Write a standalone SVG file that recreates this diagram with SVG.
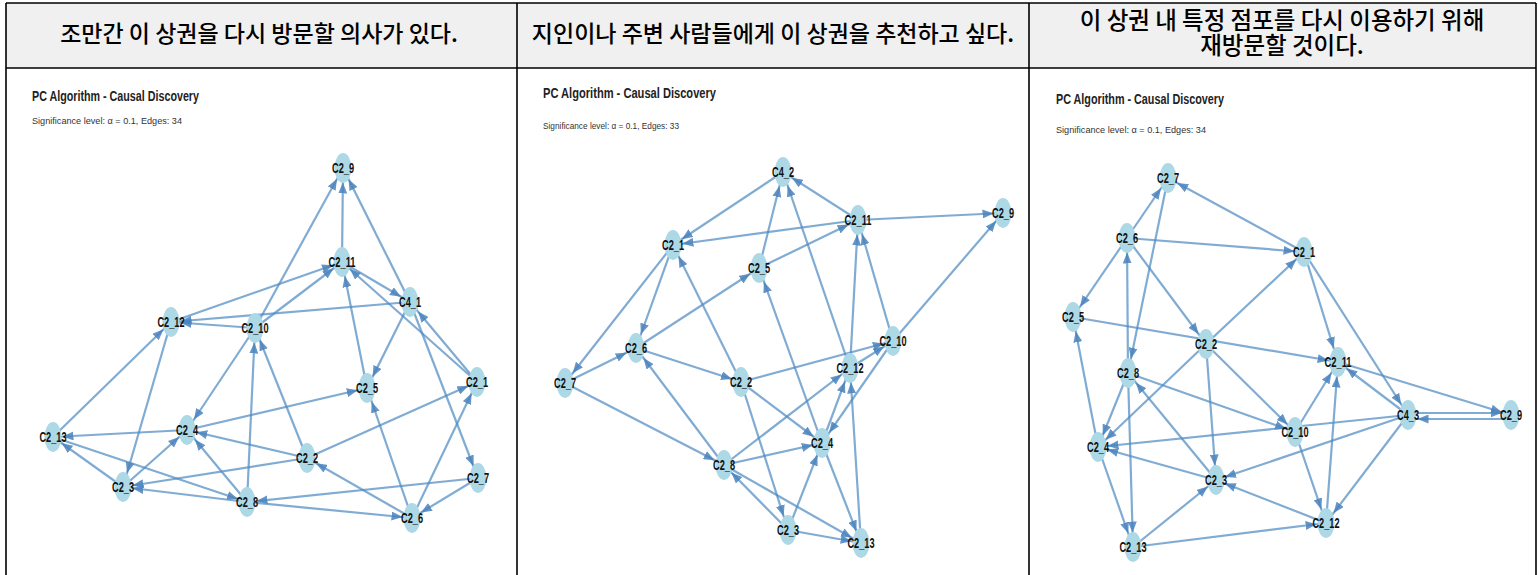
<svg xmlns="http://www.w3.org/2000/svg" width="1538" height="575" viewBox="0 0 1538 575">
<style>
.hdr{fill:#f0f0f0}
.bd{stroke:#000;stroke-width:1.6;fill:none}
.ht{font-family:"Noto Sans CJK KR","Noto Sans",sans-serif;font-size:23px;font-weight:500;fill:#000;text-anchor:middle}
.tt{font-family:"Liberation Sans",Arial,sans-serif;font-size:14px;font-weight:bold;fill:#222}
.st{font-family:"Liberation Sans",Arial,sans-serif;font-size:9px;fill:#333}
.e line{stroke:#4f8ac2;stroke-opacity:.72;stroke-width:2.2;fill:none}
.e .a{marker-end:url(#ma)}
.e .b{marker-end:url(#mb)}
.e .c{marker-end:url(#mc)}
.e .d{marker-end:url(#md)}
.n ellipse{fill:#add8e6}
.n text{font-family:"Liberation Sans",Arial,sans-serif;font-size:14px;font-weight:bold;fill:#111;text-anchor:middle}
.ah{fill:#4a82bd;fill-opacity:.85}
</style>
<defs>
<marker id="ma" markerUnits="userSpaceOnUse" viewBox="0 0 11 9" markerWidth="11" markerHeight="9" refX="20.5" refY="4.5" orient="auto"><path class="ah" d="M0,0 L11,4.5 L0,9 z"/></marker>
<marker id="mb" markerUnits="userSpaceOnUse" viewBox="0 0 11 9" markerWidth="11" markerHeight="9" refX="21.5" refY="4.5" orient="auto"><path class="ah" d="M0,0 L11,4.5 L0,9 z"/></marker>
<marker id="mc" markerUnits="userSpaceOnUse" viewBox="0 0 11 9" markerWidth="11" markerHeight="9" refX="23.5" refY="4.5" orient="auto"><path class="ah" d="M0,0 L11,4.5 L0,9 z"/></marker>
<marker id="md" markerUnits="userSpaceOnUse" viewBox="0 0 11 9" markerWidth="11" markerHeight="9" refX="25.5" refY="4.5" orient="auto"><path class="ah" d="M0,0 L11,4.5 L0,9 z"/></marker>
</defs>
<rect width="1538" height="575" fill="#fff"/>
<g id="table">
<rect class="hdr" x="6" y="3" width="1530" height="65"/>
<line class="bd" x1="6" y1="3" x2="1536" y2="3"/>
<line class="bd" x1="6" y1="68" x2="1536" y2="68"/>
<line class="bd" x1="6" y1="3" x2="6" y2="575"/>
<line class="bd" x1="517" y1="3" x2="517" y2="575"/>
<line class="bd" x1="1029" y1="3" x2="1029" y2="575"/>
<line class="bd" x1="1536" y1="3" x2="1536" y2="575"/>
<text class="ht" x="259" y="42">조만간 이 상권을 다시 방문할 의사가 있다.</text>
<text class="ht" x="773" y="42">지인이나 주변 사람들에게 이 상권을 추천하고 싶다.</text>
<text class="ht" x="1282" y="28.5" style="font-size:23.5px"><tspan x="1282" y="28.5">이 상권 내 특정 점포를 다시 이용하기 위해</tspan><tspan x="1282" y="53.5">재방문할 것이다.</tspan></text>
</g>
<g id="titles">
<text class="tt" x="32" y="101" textLength="167" lengthAdjust="spacingAndGlyphs">PC Algorithm - Causal Discovery</text>
<text class="st" x="32" y="124" textLength="150" lengthAdjust="spacingAndGlyphs">Significance level: α = 0.1, Edges: 34</text>
<text class="tt" x="543" y="98" textLength="173" lengthAdjust="spacingAndGlyphs">PC Algorithm - Causal Discovery</text>
<text class="st" x="543" y="129" textLength="136" lengthAdjust="spacingAndGlyphs">Significance level: α = 0.1, Edges: 33</text>
<text class="tt" x="1056" y="104" textLength="168" lengthAdjust="spacingAndGlyphs">PC Algorithm - Causal Discovery</text>
<text class="st" x="1056" y="133" textLength="150" lengthAdjust="spacingAndGlyphs">Significance level: α = 0.1, Edges: 34</text>
</g>
<g id="connectors" class="e">
<!-- panel 1 -->
<line class="c" x1="255" y1="328" x2="343" y2="168"/>
<line class="d" x1="342" y1="262" x2="343" y2="168"/>
<line class="c" x1="410" y1="302" x2="343" y2="168"/>
<line class="a" x1="171" y1="322" x2="342" y2="262"/>
<line class="b" x1="255" y1="328" x2="342" y2="262"/>
<line class="a" x1="410" y1="302" x2="171" y2="322"/>
<line class="a" x1="255" y1="328" x2="171" y2="322"/>
<line class="b" x1="342" y1="262" x2="410" y2="302"/>
<line class="b" x1="477" y1="382" x2="342" y2="262"/>
<line class="c" x1="477" y1="382" x2="410" y2="302"/>
<line class="d" x1="367" y1="388" x2="342" y2="262"/>
<line class="c" x1="410" y1="302" x2="367" y2="388"/>
<line class="c" x1="410" y1="302" x2="478" y2="478"/>
<line class="a" x1="187" y1="430" x2="367" y2="388"/>
<line class="a" x1="307" y1="458" x2="477" y2="382"/>
<line class="c" x1="412" y1="518" x2="477" y2="382"/>
<line class="d" x1="412" y1="518" x2="367" y2="388"/>
<line class="b" x1="412" y1="518" x2="307" y2="458"/>
<line class="b" x1="478" y1="478" x2="412" y2="518"/>
<line class="a" x1="478" y1="478" x2="247" y2="502"/>
<line class="a" x1="247" y1="502" x2="412" y2="518"/>
<line class="a" x1="307" y1="458" x2="187" y2="430"/>
<line class="a" x1="307" y1="458" x2="123" y2="487"/>
<line class="b" x1="53" y1="437" x2="171" y2="322"/>
<line class="d" x1="171" y1="322" x2="123" y2="487"/>
<line class="a" x1="187" y1="430" x2="53" y2="437"/>
<line class="b" x1="123" y1="487" x2="53" y2="437"/>
<line class="a" x1="53" y1="437" x2="247" y2="502"/>
<line class="a" x1="247" y1="502" x2="123" y2="487"/>
<line class="b" x1="123" y1="487" x2="187" y2="430"/>
<line class="c" x1="247" y1="502" x2="187" y2="430"/>
<line class="c" x1="255" y1="328" x2="187" y2="430"/>
<line class="d" x1="247" y1="502" x2="255" y2="328"/>
<line class="c" x1="307" y1="458" x2="255" y2="328"/>
<!-- panel 2 -->
<line class="b" x1="858" y1="220" x2="783" y2="172"/>
<line class="d" x1="850" y1="368" x2="783" y2="172"/>
<line class="d" x1="759" y1="268" x2="783" y2="172"/>
<line class="b" x1="783" y1="172" x2="673" y2="245"/>
<line class="a" x1="858" y1="220" x2="673" y2="245"/>
<line class="b" x1="759" y1="268" x2="858" y2="220"/>
<line class="a" x1="858" y1="220" x2="1003" y2="213"/>
<line class="b" x1="893" y1="341" x2="1003" y2="213"/>
<line class="d" x1="850" y1="368" x2="858" y2="220"/>
<line class="d" x1="893" y1="341" x2="858" y2="220"/>
<line class="d" x1="822" y1="443" x2="759" y2="268"/>
<line class="c" x1="741" y1="382" x2="673" y2="245"/>
<line class="d" x1="673" y1="245" x2="636" y2="348"/>
<line class="c" x1="673" y1="245" x2="565" y2="383"/>
<line class="b" x1="565" y1="383" x2="636" y2="348"/>
<line class="a" x1="636" y1="348" x2="741" y2="382"/>
<line class="c" x1="724" y1="465" x2="636" y2="348"/>
<line class="b" x1="565" y1="383" x2="724" y2="465"/>
<line class="a" x1="741" y1="382" x2="893" y2="341"/>
<line class="b" x1="741" y1="382" x2="822" y2="443"/>
<line class="d" x1="741" y1="382" x2="788" y2="530"/>
<line class="b" x1="724" y1="465" x2="850" y2="368"/>
<line class="a" x1="724" y1="465" x2="822" y2="443"/>
<line class="d" x1="822" y1="443" x2="850" y2="368"/>
<line class="c" x1="893" y1="341" x2="822" y2="443"/>
<line class="d" x1="861" y1="543" x2="850" y2="368"/>
<line class="c" x1="822" y1="443" x2="861" y2="543"/>
<line class="c" x1="788" y1="530" x2="822" y2="443"/>
<line class="b" x1="788" y1="530" x2="724" y2="465"/>
<line class="b" x1="724" y1="465" x2="861" y2="543"/>
<line class="a" x1="788" y1="530" x2="861" y2="543"/>
<line class="b" x1="850" y1="368" x2="893" y2="341"/>
<line class="b" x1="636" y1="348" x2="759" y2="268"/>
<!-- panel 3 -->
<line class="c" x1="1127" y1="238" x2="1168" y2="178"/>
<line class="b" x1="1304" y1="252" x2="1168" y2="178"/>
<line class="d" x1="1168" y1="178" x2="1128" y2="373"/>
<line class="a" x1="1127" y1="238" x2="1304" y2="252"/>
<line class="b" x1="1206" y1="344" x2="1304" y2="252"/>
<line class="c" x1="1127" y1="238" x2="1073" y2="317"/>
<line class="c" x1="1127" y1="238" x2="1206" y2="344"/>
<line class="d" x1="1128" y1="373" x2="1127" y2="238"/>
<line class="d" x1="1098" y1="447" x2="1073" y2="317"/>
<line class="a" x1="1073" y1="317" x2="1338" y2="362"/>
<line class="d" x1="1304" y1="252" x2="1338" y2="362"/>
<line class="c" x1="1304" y1="252" x2="1408" y2="415"/>
<line class="b" x1="1206" y1="344" x2="1098" y2="447"/>
<line class="d" x1="1206" y1="344" x2="1216" y2="480"/>
<line class="b" x1="1206" y1="344" x2="1295" y2="432"/>
<line class="c" x1="1128" y1="373" x2="1098" y2="447"/>
<line class="d" x1="1128" y1="373" x2="1133" y2="547"/>
<line class="a" x1="1128" y1="373" x2="1295" y2="432"/>
<line class="c" x1="1216" y1="480" x2="1128" y2="373"/>
<line class="a" x1="1408" y1="415" x2="1098" y2="447"/>
<line class="a" x1="1216" y1="480" x2="1098" y2="447"/>
<line class="d" x1="1098" y1="447" x2="1133" y2="547"/>
<line class="b" x1="1133" y1="547" x2="1216" y2="480"/>
<line class="a" x1="1133" y1="547" x2="1326" y2="523"/>
<line class="a" x1="1326" y1="523" x2="1216" y2="480"/>
<line class="a" x1="1408" y1="415" x2="1216" y2="480"/>
<line class="c" x1="1295" y1="432" x2="1338" y2="362"/>
<line class="d" x1="1326" y1="523" x2="1338" y2="362"/>
<line class="d" x1="1295" y1="432" x2="1326" y2="523"/>
<line class="c" x1="1408" y1="415" x2="1326" y2="523"/>
<line class="b" x1="1408" y1="415" x2="1338" y2="362"/>
<line class="a" x1="1338" y1="362" x2="1511" y2="415"/>
<line class="a" x1="1511" y1="419" x2="1408" y2="419"/>
<line class="a" x1="1408" y1="413" x2="1511" y2="413"/>
</g>
<!-- panel 1 nodes -->
<g id="p1-C2_9" class="n"><ellipse cx="343" cy="168" rx="8.5" ry="15"/><text x="343" y="173" textLength="22" lengthAdjust="spacingAndGlyphs">C2_9</text></g>
<g id="p1-C2_11" class="n"><ellipse cx="342" cy="262" rx="8.5" ry="15"/><text x="342" y="267" textLength="27" lengthAdjust="spacingAndGlyphs">C2_11</text></g>
<g id="p1-C4_1" class="n"><ellipse cx="410" cy="302" rx="8.5" ry="15"/><text x="410" y="307" textLength="22" lengthAdjust="spacingAndGlyphs">C4_1</text></g>
<g id="p1-C2_12" class="n"><ellipse cx="171" cy="322" rx="8.5" ry="15"/><text x="171" y="327" textLength="27" lengthAdjust="spacingAndGlyphs">C2_12</text></g>
<g id="p1-C2_10" class="n"><ellipse cx="255" cy="328" rx="8.5" ry="15"/><text x="255" y="333" textLength="27" lengthAdjust="spacingAndGlyphs">C2_10</text></g>
<g id="p1-C2_13" class="n"><ellipse cx="53" cy="437" rx="8.5" ry="15"/><text x="53" y="442" textLength="27" lengthAdjust="spacingAndGlyphs">C2_13</text></g>
<g id="p1-C2_4" class="n"><ellipse cx="187" cy="430" rx="8.5" ry="15"/><text x="187" y="435" textLength="22" lengthAdjust="spacingAndGlyphs">C2_4</text></g>
<g id="p1-C2_3" class="n"><ellipse cx="123" cy="487" rx="8.5" ry="15"/><text x="123" y="492" textLength="22" lengthAdjust="spacingAndGlyphs">C2_3</text></g>
<g id="p1-C2_8" class="n"><ellipse cx="247" cy="502" rx="8.5" ry="15"/><text x="247" y="507" textLength="22" lengthAdjust="spacingAndGlyphs">C2_8</text></g>
<g id="p1-C2_5" class="n"><ellipse cx="367" cy="388" rx="8.5" ry="15"/><text x="367" y="393" textLength="22" lengthAdjust="spacingAndGlyphs">C2_5</text></g>
<g id="p1-C2_1" class="n"><ellipse cx="477" cy="382" rx="8.5" ry="15"/><text x="477" y="387" textLength="22" lengthAdjust="spacingAndGlyphs">C2_1</text></g>
<g id="p1-C2_2" class="n"><ellipse cx="307" cy="458" rx="8.5" ry="15"/><text x="307" y="463" textLength="22" lengthAdjust="spacingAndGlyphs">C2_2</text></g>
<g id="p1-C2_7" class="n"><ellipse cx="478" cy="478" rx="8.5" ry="15"/><text x="478" y="483" textLength="22" lengthAdjust="spacingAndGlyphs">C2_7</text></g>
<g id="p1-C2_6" class="n"><ellipse cx="412" cy="518" rx="8.5" ry="15"/><text x="412" y="523" textLength="22" lengthAdjust="spacingAndGlyphs">C2_6</text></g>
<!-- panel 2 nodes -->
<g id="p2-C4_2" class="n"><ellipse cx="783" cy="172" rx="8.5" ry="15"/><text x="783" y="177" textLength="22" lengthAdjust="spacingAndGlyphs">C4_2</text></g>
<g id="p2-C2_1" class="n"><ellipse cx="673" cy="245" rx="8.5" ry="15"/><text x="673" y="250" textLength="22" lengthAdjust="spacingAndGlyphs">C2_1</text></g>
<g id="p2-C2_5" class="n"><ellipse cx="759" cy="268" rx="8.5" ry="15"/><text x="759" y="273" textLength="22" lengthAdjust="spacingAndGlyphs">C2_5</text></g>
<g id="p2-C2_11" class="n"><ellipse cx="858" cy="220" rx="8.5" ry="15"/><text x="858" y="225" textLength="27" lengthAdjust="spacingAndGlyphs">C2_11</text></g>
<g id="p2-C2_9" class="n"><ellipse cx="1003" cy="213" rx="8.5" ry="15"/><text x="1003" y="218" textLength="22" lengthAdjust="spacingAndGlyphs">C2_9</text></g>
<g id="p2-C2_10" class="n"><ellipse cx="893" cy="341" rx="8.5" ry="15"/><text x="893" y="346" textLength="27" lengthAdjust="spacingAndGlyphs">C2_10</text></g>
<g id="p2-C2_6" class="n"><ellipse cx="636" cy="348" rx="8.5" ry="15"/><text x="636" y="353" textLength="22" lengthAdjust="spacingAndGlyphs">C2_6</text></g>
<g id="p2-C2_7" class="n"><ellipse cx="565" cy="383" rx="8.5" ry="15"/><text x="565" y="388" textLength="22" lengthAdjust="spacingAndGlyphs">C2_7</text></g>
<g id="p2-C2_2" class="n"><ellipse cx="741" cy="382" rx="8.5" ry="15"/><text x="741" y="387" textLength="22" lengthAdjust="spacingAndGlyphs">C2_2</text></g>
<g id="p2-C2_12" class="n"><ellipse cx="850" cy="368" rx="8.5" ry="15"/><text x="850" y="373" textLength="27" lengthAdjust="spacingAndGlyphs">C2_12</text></g>
<g id="p2-C2_4" class="n"><ellipse cx="822" cy="443" rx="8.5" ry="15"/><text x="822" y="448" textLength="22" lengthAdjust="spacingAndGlyphs">C2_4</text></g>
<g id="p2-C2_8" class="n"><ellipse cx="724" cy="465" rx="8.5" ry="15"/><text x="724" y="470" textLength="22" lengthAdjust="spacingAndGlyphs">C2_8</text></g>
<g id="p2-C2_3" class="n"><ellipse cx="788" cy="530" rx="8.5" ry="15"/><text x="788" y="535" textLength="22" lengthAdjust="spacingAndGlyphs">C2_3</text></g>
<g id="p2-C2_13" class="n"><ellipse cx="861" cy="543" rx="8.5" ry="15"/><text x="861" y="548" textLength="27" lengthAdjust="spacingAndGlyphs">C2_13</text></g>
<!-- panel 3 nodes -->
<g id="p3-C2_7" class="n"><ellipse cx="1168" cy="178" rx="8.5" ry="15"/><text x="1168" y="183" textLength="22" lengthAdjust="spacingAndGlyphs">C2_7</text></g>
<g id="p3-C2_6" class="n"><ellipse cx="1127" cy="238" rx="8.5" ry="15"/><text x="1127" y="243" textLength="22" lengthAdjust="spacingAndGlyphs">C2_6</text></g>
<g id="p3-C2_5" class="n"><ellipse cx="1073" cy="317" rx="8.5" ry="15"/><text x="1073" y="322" textLength="22" lengthAdjust="spacingAndGlyphs">C2_5</text></g>
<g id="p3-C2_2" class="n"><ellipse cx="1206" cy="344" rx="8.5" ry="15"/><text x="1206" y="349" textLength="22" lengthAdjust="spacingAndGlyphs">C2_2</text></g>
<g id="p3-C2_1" class="n"><ellipse cx="1304" cy="252" rx="8.5" ry="15"/><text x="1304" y="257" textLength="22" lengthAdjust="spacingAndGlyphs">C2_1</text></g>
<g id="p3-C2_11" class="n"><ellipse cx="1338" cy="362" rx="8.5" ry="15"/><text x="1338" y="367" textLength="27" lengthAdjust="spacingAndGlyphs">C2_11</text></g>
<g id="p3-C2_8" class="n"><ellipse cx="1128" cy="373" rx="8.5" ry="15"/><text x="1128" y="378" textLength="22" lengthAdjust="spacingAndGlyphs">C2_8</text></g>
<g id="p3-C4_3" class="n"><ellipse cx="1408" cy="415" rx="8.5" ry="15"/><text x="1408" y="420" textLength="22" lengthAdjust="spacingAndGlyphs">C4_3</text></g>
<g id="p3-C2_9" class="n"><ellipse cx="1511" cy="415" rx="8.5" ry="15"/><text x="1511" y="420" textLength="22" lengthAdjust="spacingAndGlyphs">C2_9</text></g>
<g id="p3-C2_10" class="n"><ellipse cx="1295" cy="432" rx="8.5" ry="15"/><text x="1295" y="437" textLength="27" lengthAdjust="spacingAndGlyphs">C2_10</text></g>
<g id="p3-C2_4" class="n"><ellipse cx="1098" cy="447" rx="8.5" ry="15"/><text x="1098" y="452" textLength="22" lengthAdjust="spacingAndGlyphs">C2_4</text></g>
<g id="p3-C2_3" class="n"><ellipse cx="1216" cy="480" rx="8.5" ry="15"/><text x="1216" y="485" textLength="22" lengthAdjust="spacingAndGlyphs">C2_3</text></g>
<g id="p3-C2_12" class="n"><ellipse cx="1326" cy="523" rx="8.5" ry="15"/><text x="1326" y="528" textLength="27" lengthAdjust="spacingAndGlyphs">C2_12</text></g>
<g id="p3-C2_13" class="n"><ellipse cx="1133" cy="547" rx="8.5" ry="15"/><text x="1133" y="552" textLength="27" lengthAdjust="spacingAndGlyphs">C2_13</text></g>
</svg>
